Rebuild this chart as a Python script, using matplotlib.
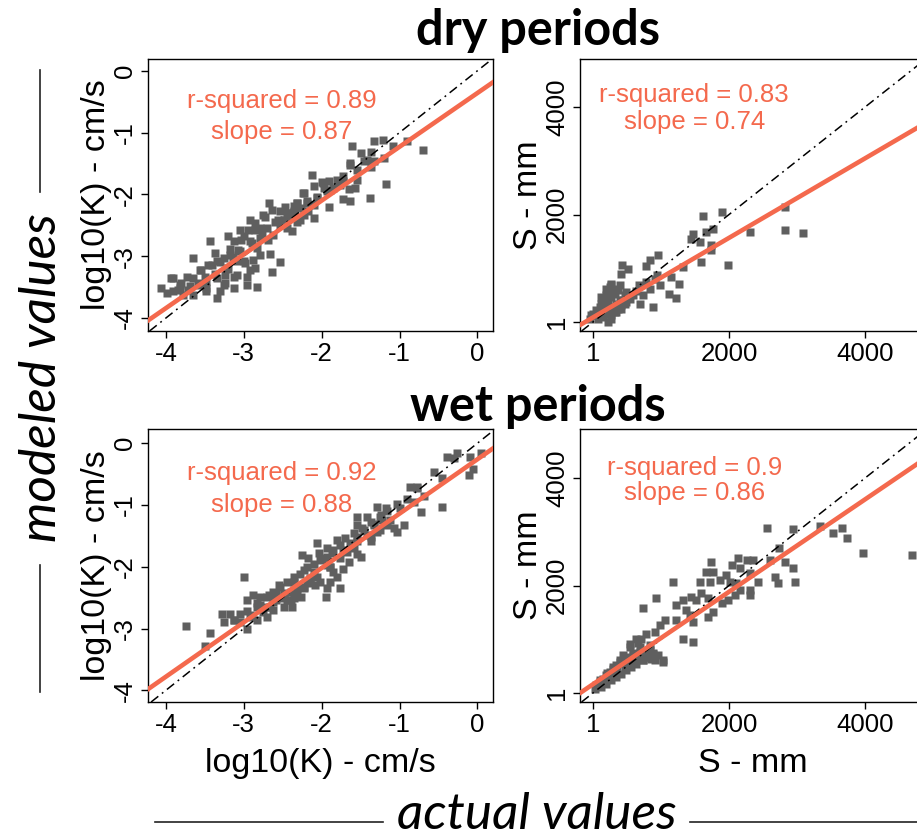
"""Modeled vs actual values for dry and wet periods (log10(K) and S)."""

import matplotlib

matplotlib.use("Agg")
import matplotlib.pyplot as plt  # noqa: E402
from matplotlib.lines import Line2D  # noqa: E402

plt.rcParams["font.family"] = ["Liberation Sans", "DejaVu Sans"]
plt.rcParams["axes.unicode_minus"] = False

# ---- data ------------------------------------------------------------------
DRY_K_ACTUAL = [
    -1.21, -1.33, -1.09, -0.90, -0.70, -1.61, -1.37, -1.46, -1.33, -1.20,
    -1.64, -1.18, -1.38, -1.57, -1.65, -1.72, -1.63, -1.54, -1.72, -1.76,
    -2.12, -2.00, -1.91, -2.10, -1.97, -2.24, -2.32, -2.19, -2.10, -2.27,
    -2.36, -1.91, -2.10, -2.23, -2.38, -2.49, -2.53, -2.32, -2.45, -2.60,
    -2.68, -2.75, -2.70, -2.62, -2.79, -2.92, -3.05, -2.85, -3.00, -2.79,
    -2.92, -3.05, -3.13, -3.18, -2.83, -2.66, -2.53, -2.64, -2.85, -2.88,
    -3.00, -2.92, -3.09, -3.22, -3.26, -3.18, -3.35, -3.43, -3.41, -3.56,
    -3.65, -3.73, -3.65, -3.48, -3.35, -3.26, -3.13, -2.96, -2.83, -3.30,
    -3.35, -3.48, -3.56, -3.69, -3.82, -3.91, -4.06, -3.99, -3.91, -3.82,
    -3.78, -3.65, -3.48, -3.24, -3.09, -2.96, -3.37, -3.20, -2.79, -2.53,
    -2.42, -2.36, -2.17, -2.06, -1.93, -1.85, -1.78,
    -3.93, -3.55, -3.46, -3.37, -3.31, -3.20, -3.14, -3.07, -3.03, -2.94,
    -2.86, -2.90, -2.99, -3.12, -3.24, -3.80, -3.72, -3.85, -3.59, -3.50,
    -2.73, -2.64, -2.56, -2.47, -2.39, -2.77, -2.69,
    -1.98, -2.23, -2.32, -2.45, -2.49, -2.19, -2.06, -1.89, -1.80, -1.72,
    -1.63, -1.50, -1.42, -1.37, -1.55, -2.28, -2.36,
]
DRY_K_MODELED = [
    -1.12, -1.13, -1.21, -1.13, -1.28, -1.21, -1.32, -1.46, -1.46, -1.41,
    -1.52, -1.83, -2.06, -1.89, -1.92, -2.07, -2.11, -1.76, -1.78, -1.85,
    -1.69, -1.80, -1.79, -1.87, -1.90, -1.98, -2.14, -2.11, -2.17, -2.22,
    -2.27, -2.21, -2.39, -2.33, -2.60, -2.41, -2.49, -2.44, -2.54, -2.44,
    -2.14, -2.33, -2.54, -2.65, -2.54, -2.41, -2.57, -2.57, -2.68, -2.70,
    -2.76, -2.92, -2.76, -2.98, -2.87, -2.96, -3.09, -3.25, -3.19, -3.06,
    -3.08, -3.22, -3.08, -3.19, -3.03, -2.89, -3.08, -2.76, -3.14, -3.22,
    -3.03, -3.33, -3.35, -3.41, -3.35, -3.46, -3.51, -3.46, -3.50, -3.57,
    -3.68, -3.51, -3.46, -3.49, -3.46, -3.35, -3.51, -3.60, -3.57, -3.51,
    -3.62, -3.62, -3.57, -3.30, -3.30, -3.33, -2.95, -2.68, -2.98, -2.27,
    -2.30, -2.19, -2.27, -2.06, -1.95, -1.90, -1.82,
    -3.36, -3.22, -3.14, -3.28, -3.09, -3.20, -3.01, -2.90, -2.74, -2.57,
    -2.47, -2.79, -3.11, -3.33, -3.44, -3.44, -3.55, -3.55, -3.44, -3.33,
    -2.36, -2.25, -2.41, -2.20, -2.36, -2.63, -2.74,
    -1.82, -1.98, -2.14, -2.30, -2.41, -2.14, -2.04, -1.93, -1.77, -1.71,
    -1.49, -1.33, -1.44, -1.55, -1.60, -2.41, -2.28,
]

DRY_S_ACTUAL = [
    1620, 1904, 1767, 1669, 1472, 1448, 1571, 1742, 1742, 1595,
    1325, 957, 834, 785, 942, 1119, 1227, 1266, 883, 687,
    736, 834, 982, 908, 785, 677, 638, 515, 417, 432,
    393, 270, 491, 2822, 2307, 2822, 3082, 1988, 1153,
    25, 74, 123, 172, 221, 270, 319, 74, 147, 196,
    245, 294, 344, 393, 196, 147, 123, 98, 49, 0,
    270, 319, 368, 417, 442, 466, 221, 270, 172, 245,
    196, 123, 270, 245, 417, 466, 540, 589, 368, 319,
    491, 344, -49, -25,
]
DRY_S_MODELED = [
    1972, 2046, 1736, 1674, 1643, 1550, 1488, 1426, 1333, 1116,
    1017, 1240, 1147, 1042, 868, 527, 446, 713, 279, 341,
    508, 620, 682, 806, 744, 682, 570, 992, 899, 1054,
    682, 694, 372, 2139, 1674, 1705, 1655, 1066, 837,
    124, 186, 248, 310, 372, 465, 527, 62, 93, 155,
    217, 279, 341, 403, 496, 403, 341, 279, 217, 155,
    124, 186, 248, 310, 403, 496, 0, 62, 434, 589,
    620, 465, 713, 651, 248, 341, 434, 496, 589, 620,
    558, 186, 62, 124,
]

WET_K_ACTUAL = [
    -3.74, -3.43, -3.50, -3.28, -3.26, -3.13, -3.05, -3.00, -2.96, -2.96,
    -2.88, -2.83, -2.83, -2.92, -2.75, -2.70, -2.68, -2.62, -2.58, -2.53,
    -2.49, -2.45, -2.40, -2.36, -2.32, -2.27, -2.23, -2.19, -2.23, -2.25,
    -2.17, -2.10, -2.15, -2.08, -2.02, -1.93, -1.95, -1.89, -1.80, -1.76,
    -1.85, -1.93, -2.00, -2.04, -2.06, -1.93, -1.87, -1.76, -1.65, -1.72,
    -1.67, -1.70, -1.59, -1.55, -1.50, -1.59, -1.55, -1.48, -1.42, -1.37,
    -1.33, -1.29, -1.29, -1.24, -1.18, -1.16, -1.07, -1.03, -0.94, -0.99,
    -0.90, -0.82, -0.73, -0.77, -0.69, -0.56, -0.45, -0.45, -0.39, -0.30,
    -0.26, -0.11, -0.06, -0.09, 0.04, -2.38, -2.49, -2.62, -2.79, -2.36,
    -2.55, -2.70, -3.18, -1.89, -1.76, -1.37, -1.22, -1.55,
    -2.83, -2.70, -2.62, -2.53, -2.45, -2.36, -2.28, -2.19, -2.10, -2.02,
    -1.93, -2.79, -2.66, -2.58, -2.49, -2.40, -2.32, -2.23, -2.15, -2.06,
    -2.96, -3.05, -2.90, -3.13, -1.89, -1.85,
    -1.46, -1.33, -1.25, -1.16, -1.03, -1.37, -1.55, -1.63, -1.72, -1.80,
    -1.25, -1.12, -1.42, -0.86, -0.77, -1.55,
]
WET_K_MODELED = [
    -2.96, -3.08, -3.28, -2.77, -2.89, -2.86, -2.89, -2.16, -3.00, -2.54,
    -2.46, -2.65, -2.86, -2.78, -2.73, -2.65, -2.46, -2.57, -2.43, -2.51,
    -2.65, -2.54, -2.41, -2.24, -2.35, -2.49, -2.35, -2.24, -2.05, -1.81,
    -1.86, -2.08, -2.19, -2.30, -2.24, -2.35, -2.49, -2.24, -2.16, -2.34,
    -2.08, -1.97, -1.86, -1.78, -1.61, -1.70, -1.78, -1.86, -1.92, -2.03,
    -1.76, -1.54, -1.70, -1.59, -1.84, -1.46, -1.32, -1.38, -1.49, -1.27,
    -1.32, -1.43, -1.04, -1.16, -1.05, -1.32, -1.38, -1.43, -1.32, -1.05,
    -0.90, -0.95, -1.12, -0.73, -0.86, -0.46, -0.57, -1.03, -0.22, -0.24,
    -0.16, -0.51, -0.41, -0.22, -0.16, -2.65, -2.43, -2.70, -2.62, -2.51,
    -2.30, -2.81, -2.77, -2.00, -1.65, -1.59, -1.24, -1.19,
    -2.59, -2.49, -2.41, -2.33, -2.25, -2.17, -2.11, -2.00, -1.95, -1.89,
    -1.84, -2.49, -2.65, -2.54, -2.46, -2.54, -2.41, -2.33, -2.27, -2.17,
    -2.71, -2.76, -2.81, -2.87, -2.00, -1.73,
    -1.41, -1.30, -1.19, -1.09, -0.98, -1.52, -1.52, -1.62, -1.73, -1.57,
    -1.41, -1.25, -1.19, -0.71, -0.71, -1.79,
]

WET_S_ACTUAL = [
    2552, 2945, 3337, 3534, 3656, 3730, 3975, 4687, 2739, 2601,
    2822, 2945, 2969, 2675, 2724, 2135, 2258, 2356, 2429, 2160,
    2307, 2037, 1963, 1865, 2012, 2110, 2160, 2307, 2307, 2086,
    1988, 1890, 1767, 1742, 1669, 1718, 1571, 1693, 1767, 1693,
    1595, 1521, 1448, 1325, 1178, 1227, 1374, 1423, 1472, 1325,
    1472, 1227, 1055, 982, 908, 736, 933, 785, 712, 638,
    540, 687, 834, 1031, 908, 785, 687, 589, 491, 442,
    393, 344, 294, 245, 196, 147, 98, 49, 25, 123,
    196, 270, 344, 417, 491, 564, 638, 736, 810, 883,
    319, 172, 491, 614, 466, 245, 859, 957,
    397, 496, 593, 691, 790, 887, 299, 201, 103, 446,
    544, 643, 740, 348, 250, 151, 544, 667, 838, 1034,
]
WET_S_MODELED = [
    3079, 3054, 3116, 2986, 3079, 2892, 2600, 2569, 2706, 2476,
    2444, 2320, 2071, 2165, 2040, 2507, 2476, 2476, 2071, 2320,
    2227, 2382, 2196, 2102, 2071, 2040, 1916, 1916, 1822, 1822,
    1729, 1667, 2258, 2444, 2258, 2071, 2071, 1760, 1511, 1418,
    1854, 1729, 1791, 1729, 2071, 1636, 1543, 1449, 1325, 1014,
    952, 1356, 1356, 1263, 1138, 1574, 1760, 1107, 1014, 1014,
    921, 858, 889, 578, 610, 703, 641, 703, 641, 703,
    578, 516, 454, 392, 330, 267, 205, 143, 81, 112,
    174, 236, 299, 361, 423, 485, 547, 610, 672, 734,
    392, 205, 578, 641, 485, 267, 641, 703,
    614, 675, 739, 768, 675, 739, 489, 366, 242, 553,
    614, 646, 614, 428, 304, 180, 861, 925, 800, 614,
]

# fitted regression lines (slope as printed, intercept)
FIT_SLOPE = {"dry_k": 0.87, "dry_s": 0.74, "wet_k": 0.88, "wet_s": 0.86}
FIT_INTERCEPT = {"dry_k": -0.36, "dry_s": 86, "wet_k": -0.26, "wet_s": 163}
R_SQUARED = {"dry_k": "0.89", "dry_s": "0.83", "wet_k": "0.92", "wet_s": "0.9"}

K_TICKS = [-4, -3, -2, -1, 0]
S_TICKS = [1, 2000, 4000]

POINT_COLOR = "#5f5f5f"
FIT_COLOR = "#f4694d"
W, H = 917, 839


def _panel(fig, rect, x, y, key, xlim, ylim, ticks, ylabel, xlabel, text_pos):
    """Draw one scatter panel in R base-graphics style."""
    l, t, r, b = rect
    ax = fig.add_axes([l / W, 1 - b / H, (r - l) / W, (b - t) / H])
    ax.plot(x, y, "s", ms=5.3, color=POINT_COLOR, mec="none", zorder=2)
    ax.axline((0, 0), slope=1, color="black", lw=1.1,
              dashes=(6, 3, 1.2, 3), zorder=3)
    ax.axline((0, FIT_INTERCEPT[key]), slope=FIT_SLOPE[key],
              color=FIT_COLOR, lw=3.3, zorder=4)
    ax.set_xlim(*xlim)
    ax.set_ylim(*ylim)
    ax.set_xticks(ticks)
    ax.set_yticks(ticks)
    ax.tick_params(length=5, width=1, labelsize=18.5, pad=3)
    plt.setp(ax.get_yticklabels(), rotation=90, va="center")
    for sp in ax.spines.values():
        sp.set_linewidth(1)
    ax.set_ylabel(ylabel, fontsize=24.5)
    ax.yaxis.set_label_coords(-0.104, 0.5)
    if xlabel:
        ax.set_xlabel(xlabel, fontsize=24.5)
        ax.xaxis.set_label_coords(0.5, -0.17)
    tx, ty1, ty2 = text_pos
    ax.text(tx, ty1, f"r-squared = {R_SQUARED[key]}", transform=ax.transAxes,
            ha="center", va="center", fontsize=18.5, color=FIT_COLOR)
    ax.text(tx, ty2, f"slope = {FIT_SLOPE[key]}", transform=ax.transAxes,
            ha="center", va="center", fontsize=18.5, color=FIT_COLOR)
    return ax


def main():
    fig = plt.figure(figsize=(W / 100, H / 100), dpi=100)
    k_label = "log10(K) - cm/s"
    s_label = "S - mm"

    _panel(fig, (148, 59, 493, 331), DRY_K_ACTUAL, DRY_K_MODELED, "dry_k",
           (-4.23, 0.2), (-4.21, 0.19), K_TICKS, k_label, None,
           (0.388, 0.846, 0.732))
    _panel(fig, (580, 59, 926, 331), DRY_S_ACTUAL, DRY_S_MODELED, "dry_s",
           (-190, 4895), (-166, 4893), S_TICKS, s_label, None,
           (0.33, 0.868, 0.768))
    _panel(fig, (148, 429, 493, 702), WET_K_ACTUAL, WET_K_MODELED, "wet_k",
           (-4.23, 0.2), (-4.19, 0.23), K_TICKS, k_label, k_label,
           (0.388, 0.839, 0.722))
    _panel(fig, (580, 429, 926, 702), WET_S_ACTUAL, WET_S_MODELED, "wet_s",
           (-190, 4895), (-167, 4912), S_TICKS, s_label, s_label,
           (0.33, 0.857, 0.766))

    # section titles
    fig.text(538 / W, 1 - 45 / H, "dry periods", ha="center", va="baseline",
             fontsize=35, fontweight="bold", family="Lato")
    fig.text(538 / W, 1 - 421 / H, "wet periods", ha="center", va="baseline",
             fontsize=35, fontweight="bold", family="Lato")

    # outer axis titles with rules
    fig.text(42 / W, 1 - 378 / H, "modeled values", rotation=90, ha="center",
             va="center", fontsize=37, style="italic", family="Lato",
             color="black")
    fig.text(537 / W, 1 - 815 / H, "actual values", ha="center", va="center",
             fontsize=37, style="italic", family="Lato", color="black")
    rule = dict(color="#222222", lw=1.2, transform=fig.transFigure)
    fig.add_artist(Line2D([40 / W, 40 / W], [1 - 70 / H, 1 - 192 / H], **rule))
    fig.add_artist(Line2D([40 / W, 40 / W], [1 - 565 / H, 1 - 692 / H], **rule))
    fig.add_artist(Line2D([155 / W, 383 / W], [1 - 822 / H, 1 - 822 / H], **rule))
    fig.add_artist(Line2D([690 / W, 1.0], [1 - 822 / H, 1 - 822 / H], **rule))

    fig.savefig("out.png", dpi=100)
    plt.close(fig)


if __name__ == "__main__":
    main()
